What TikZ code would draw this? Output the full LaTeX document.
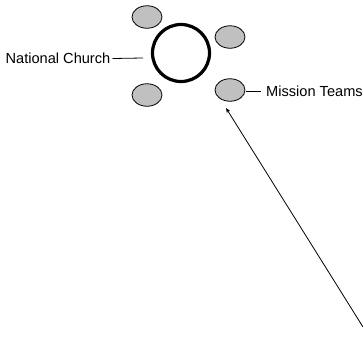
\documentclass[tikz,border=0pt]{standalone}
\usepackage{fontspec}
\setmainfont{Liberation Sans}
\usetikzlibrary{shapes.geometric,arrows.meta}
\definecolor{teamgray}{RGB}{192,192,192}
\begin{document}
\begin{tikzpicture}[x=1pt,y=-1pt,
  team/.style={ellipse,draw=black,line width=0.8pt,fill=teamgray,minimum width=30pt,minimum height=22.5pt,inner sep=0pt},
  church/.style={circle,draw=black,line width=3.2pt,minimum size=57pt,inner sep=0pt},
  lbl/.style={inner sep=0pt,font=\fontsize{14.6}{16}\selectfont},
  conn/.style={draw=black,line width=0.8pt}]
\useasboundingbox (0,0) rectangle (363,348);
\node[church] (nc) at (181,53) {};
\node[team] (t1) at (147,17) {};
\node[team] (t2) at (230,37) {};
\node[team] (t3) at (147,95) {};
\node[team] (t4) at (230,90) {};
\node[lbl,anchor=east] (ncl) at (110.5,58.5) {National Church};
\node[lbl,anchor=west] (mtl) at (266,91) {Mission Teams};
\coordinate (ncend) at (143,58);
\coordinate (mtstart) at (246,91);
\coordinate (mtend) at (261,91);
\coordinate (asrc) at (363,327);
\coordinate (atip) at (226,108);
\draw[conn] (ncl.east) ++(2,0) -- (ncend);
\draw[conn] (mtstart) -- (mtend);
\draw[conn,-{Stealth[length=5pt,width=4pt]}] (asrc) -- (atip);
\end{tikzpicture}
\end{document}
